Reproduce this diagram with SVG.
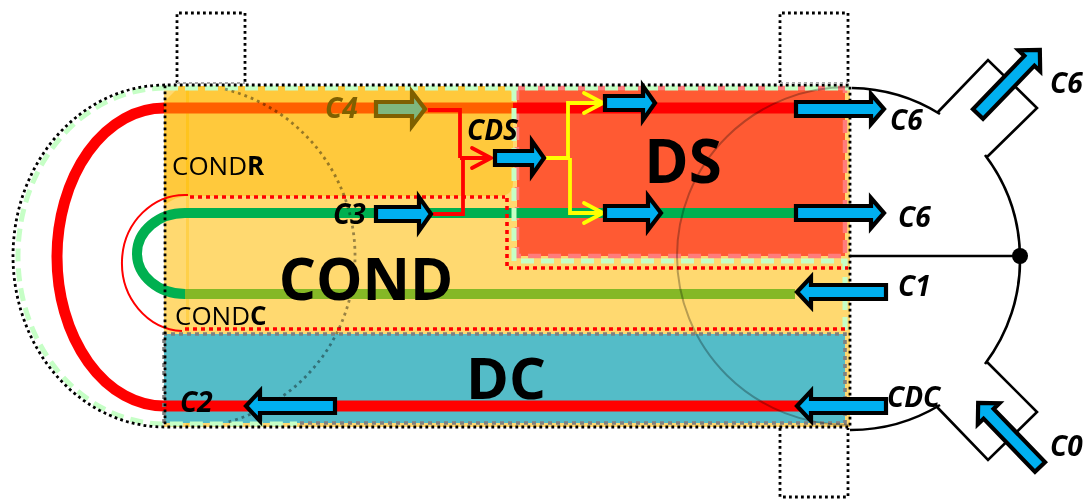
<svg xmlns="http://www.w3.org/2000/svg" width="1085" height="499" viewBox="0 0 1085 499">
<style>
.ar{fill:#00B0F0;stroke:#000;stroke-width:4.2;stroke-miterlimit:10}
.dotk{fill:none;stroke:#000;stroke-width:2.8;stroke-dasharray:2.8 3.2}
.gd{fill:none;stroke:#C6FFC6;stroke-width:5;stroke-dasharray:13 7}
.rd{fill:none;stroke:#F00;stroke-width:3.6;stroke-dasharray:4 4}
.gy{fill:none;stroke:#808080;stroke-width:3.6;stroke-dasharray:4 4}
.w{fill:none;stroke:#000;stroke-width:2.6;stroke-linejoin:miter}
.cl{font-family:"Open Sans","Liberation Sans",sans-serif;font-weight:700;font-style:italic;font-size:28px;fill:#000}
.big{font-family:"Open Sans","Liberation Sans",sans-serif;font-weight:700;fill:#000;text-anchor:middle}
.sm{font-family:"Open Sans","Liberation Sans",sans-serif;font-size:26px;fill:#000}
.rl{fill:none;stroke:#F00;stroke-width:3.8}
.yl{fill:none;stroke:#FF0;stroke-width:3.8}
.mul{fill:none;mix-blend-mode:multiply}
</style>

<g id="region-cond">
<rect x="164" y="86" width="686" height="341" fill="#FFD970"/>
<rect x="186" y="86" width="3" height="341" fill="#FFC000" opacity=".35"/>
</g>
<g id="region-condr">
<path d="M164,102 L180,86 H500 Q513,86 513,100 V182 Q513,196 499,196 H188 Q175,196 164,206 Z" fill="#FFC93C"/>
<rect x="186" y="86" width="3" height="110" fill="#FFC000" opacity=".5"/>
</g>
<g id="region-ds">
<rect x="517" y="88" width="328" height="168" fill="#FF5A33"/>
<rect x="517" y="88" width="328" height="168" fill="none" stroke="#FF7C7C" stroke-width="4.5" stroke-dasharray="13 7"/>
</g>
<g id="region-dc">
<rect x="164" y="334" width="681" height="89" fill="#54BCC8"/>
</g>

<g id="connectors">
<path d="M164,108 H513" fill="none" stroke="#FF6000" stroke-width="11"/>
<path d="M513,108 H800" fill="none" stroke="#F00" stroke-width="11"/>
<path d="M164,108 A107,149 0 0 0 164,406 H800" fill="none" stroke="#F00" stroke-width="11"/>
<path d="M185,213 H795" fill="none" stroke="#00B050" stroke-width="10"/>
<path d="M185,294 H795" fill="none" stroke="#85B826" stroke-width="10"/>
<path d="M185,213 A48,40.5 0 0 0 185,294" fill="none" stroke="#00B050" stroke-width="10"/>
<path d="M188,195 A63,68 0 0 0 182,331" fill="none" stroke="#F00" stroke-width="2"/>
<path class="rl" d="M428,110 H460 V158 M433,214 H463 V158 M460,158 H490"/>
<path class="rl" stroke-linecap="round" d="M472,148 L491,158 L472,168"/>
<path class="yl" d="M546,158 H570 M568,158 V103 H603 M570,158 V213 H603"/>
<path class="yl" stroke-linecap="round" d="M584,93 L603,103 L584,113 M584,203 L603,213 L584,223"/>
</g>

<g id="outline-lines">
<path class="gd" d="M165,88 H850 M514,88 V261 H845 V330 M165,88 A147,168 0 0 0 165,424 H297"/>
<path class="rd" d="M190,197 H505 M507,198 V268 H848 M185,329 H848"/>
<path class="gy" d="M164,423 V334 H845 V423 H300"/>
<path class="dotk" d="M165,85 A152,171 0 0 0 165,427 H850 V85 H165 V427"/>
<path class="mul" stroke="#999" stroke-width="2.8" stroke-dasharray="2.8 4" d="M225,89.2 A172,172 0 0 1 225,422.8"/>
<path class="mul" stroke="#B8B8B8" stroke-width="2" d="M848,87 A171,169 0 0 0 848,425"/>
</g>

<g id="slot-top-left"><path class="dotk" d="M177,83 V13 H245 V83"/><path d="M177,83 H245" fill="none" stroke="#AAA" stroke-width="2" stroke-dasharray="3 3"/></g>
<g id="slot-top-right"><path class="dotk" d="M780,83 V13 H848 V83"/><path d="M780,83 H848" fill="none" stroke="#AAA" stroke-width="2" stroke-dasharray="3 3"/></g>
<g id="slot-bottom-right"><path class="dotk" d="M780,428 V497 H848 V428"/></g>

<g id="motor-outline">
<path class="w" d="M852,88 A172,172 0 0 1 940,114 M938,112 L988,60 L1037,108 L987,157 M985,155 A172,172 0 0 1 1020,256 A172,172 0 0 1 985,364 M987,362 L1037,412 L988,460 L937,407 M940,405 A172,172 0 0 1 850,430 M850,256 H1020"/>
<circle cx="1020" cy="256" r="8" fill="#000"/>
</g>

<g id="arrow-c4"><path d="M376,102 H412 V92 L425,109 L412,126 V116 H376 Z" fill="#7FB77E" stroke="#7F6000" stroke-width="4.2" stroke-miterlimit="10"/></g>
<g id="arrow-c3"><path class="ar" d="M376,207 H419 V197 L431,214 L419,231 V221 H376 Z"/></g>
<g id="arrow-cds"><path class="ar" d="M495,151 H532 V141 L544,158 L532,175 V165 H495 Z"/></g>
<g id="arrow-ds1"><path class="ar" d="M605,96 H643 V86 L655,103 L643,120 V110 H605 Z"/></g>
<g id="arrow-ds2"><path class="ar" d="M605,206 H648 V196 L661,213 L648,230 V220 H605 Z"/></g>
<g id="arrow-c6a"><path class="ar" d="M796,102 H871 V94 L884,109 L871,124 V116 H796 Z"/></g>
<g id="arrow-c6b"><path class="ar" d="M796,206 H871 V198 L884,213 L871,228 V220 H796 Z"/></g>
<g id="arrow-c1"><path class="ar" d="M886,285 H811 V277 L797,292 L811,307 V299 H886 Z"/></g>
<g id="arrow-cdc"><path class="ar" d="M886,399 H811 V391 L797,406 L811,421 V413 H886 Z"/></g>
<g id="arrow-c2"><path class="ar" d="M335,399 H260 V391 L246,406 L260,421 V413 H335 Z"/></g>
<g id="arrow-c6d"><path class="ar" transform="translate(978,114) rotate(-46)" d="M0,-7 H74 V-15 L89,0 L74,15 V7 H0 Z"/></g>
<g id="arrow-c0"><path class="ar" transform="translate(1040,467) rotate(-134)" d="M0,-7 H74 V-15 L89,0 L74,15 V7 H0 Z"/></g>

<g id="labels">
<text class="cl" x="325" y="118" style="fill:#7F6000">C4</text>
<text class="cl" x="333" y="224">C3</text>
<text class="cl" x="467" y="140">CDS</text>
<text class="cl" x="180" y="412">C2</text>
<text class="cl" x="890" y="130">C6</text>
<text class="cl" x="898" y="227">C6</text>
<text class="cl" x="898" y="296">C1</text>
<text class="cl" x="887" y="407">CDC</text>
<text class="cl" x="1050" y="93">C6</text>
<text class="cl" x="1050" y="456">C0</text>
<text class="big" x="366" y="300" font-size="58.5">COND</text>
<text class="big" x="683" y="183" font-size="60">DS</text>
<text class="big" x="506" y="399" font-size="58">DC</text>
<text class="sm" x="172" y="175">COND<tspan font-weight="700">R</tspan></text>
<text class="sm" x="175" y="325">COND<tspan font-weight="700">C</tspan></text>
</g>
</svg>
